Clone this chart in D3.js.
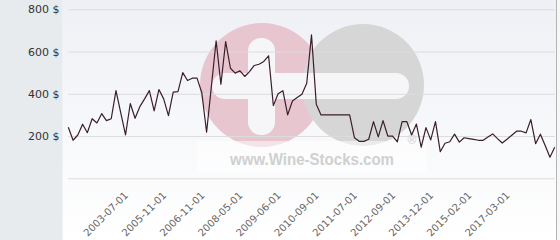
<!DOCTYPE html>
<html>
<head>
    <title>Wine price chart</title>
    <style>
        body { margin: 0; background: #fff; }
        .ylab text { font: 11px "DejaVu Sans", Verdana, sans-serif; fill: #333; }
        .xlab text { font: 10px "DejaVu Sans", Verdana, sans-serif; fill: #666; }
        .grid line { stroke: #dcdcdc; stroke-width: 1px; }
        .price { fill: none; stroke: #3b1e2c; stroke-width: 1.2px; stroke-linejoin: round; }
    </style>
</head>
<body>
    <div id="chart"></div>

    <script src="https://d3js.org/d3.v7.min.js"></script>
<script>
    // price per record (index = record number)
    var prices = [
        242, 180, 205, 256, 216, 282, 262, 306, 273, 282,
        415, 310, 205, 354, 284, 339, 376, 415, 319, 420,
        376, 297, 408, 410, 500, 463, 474, 474, 405, 218,
        434, 651, 445, 647, 521, 498, 509, 482, 505, 534,
        540, 553, 580, 344, 400, 415, 300, 366, 382, 398,
        450, 679, 351, 300, 300, 300, 300, 300, 300, 300,
        192, 175, 175, 185, 268, 196, 273, 200, 200, 173,
        268, 268, 205, 257, 147, 240, 182, 268, 126, 166,
        173, 209, 171, 192, 188, 184, 180, 180, 195, 210,
        188, 167, 185, 204, 223, 223, 215, 278, 164, 209,
        155, 100, 147
    ];

    // labelled records on the x axis
    var tickIndex = [13, 21, 29, 37, 45, 53, 61, 69, 77, 85, 93];
    var tickDates = ["2003-07-01", "2005-11-01", "2006-11-01", "2008-05-01", "2009-06-01",
        "2010-09-01", "2011-07-01", "2012-09-01", "2013-12-01", "2015-02-01", "2017-03-01"];

    var yGrid = [0, 200, 400, 600, 800];
    var yLabels = [200, 400, 600, 800];

    var width = 560, height = 240;
    var plotLeft = 68.3, plotRight = 554.7, plotTop = 9.3, plotBottom = 178.3;

    var svg = d3.select("#chart").append("svg")
        .attr("width", width)
        .attr("height", height);

    var x = d3.scaleLinear().domain([0, prices.length - 1]).range([plotLeft, plotRight]);
    var y = d3.scaleLinear().domain([0, 800]).range([plotBottom, plotTop]);

    // backgrounds
    var grad = svg.append("defs").append("linearGradient")
        .attr("id", "bg").attr("x1", 0).attr("y1", 0).attr("x2", 0).attr("y2", 1);
    grad.append("stop").attr("offset", "0%").attr("stop-color", "#eef0f5");
    grad.append("stop").attr("offset", "100%").attr("stop-color", "#ffffff");

    svg.append("rect").attr("width", width).attr("height", height).attr("fill", "#f7f7f7");
    svg.append("rect").attr("x", 63).attr("width", 493).attr("height", height).attr("fill", "url(#bg)");
    svg.append("rect").attr("width", 62.5).attr("height", height).attr("fill", "#e7ebee");
    svg.append("line").attr("x1", 556.5).attr("x2", 556.5).attr("y1", 0).attr("y2", height)
        .attr("stroke", "#b4b4b4");

    // watermark
    var wm = svg.append("g");
    wm.append("circle").attr("cx", 262).attr("cy", 85).attr("r", 62).attr("fill", "#e8c6d0");
    wm.append("circle").attr("cx", 363).attr("cy", 85).attr("r", 61).attr("fill", "#d6d6d6");
    wm.append("rect").attr("x", 248).attr("y", 38).attr("width", 27).attr("height", 97)
        .attr("rx", 13).attr("fill", "#f6f6f9");
    wm.append("rect").attr("x", 212).attr("y", 73).attr("width", 197).attr("height", 26)
        .attr("rx", 13).attr("fill", "#f6f6f9");
    wm.append("rect").attr("x", 197).attr("y", 141).attr("width", 230).attr("height", 31)
        .attr("fill", "#ffffff").attr("opacity", 0.5);
    wm.append("text").attr("x", 230).attr("y", 165)
        .attr("textLength", 164).attr("lengthAdjust", "spacingAndGlyphs")
        .style("font", "bold 17px Arial, 'Liberation Sans', sans-serif")
        .style("fill", "#d0d0d0")
        .text("www.Wine-Stocks.com");
    wm.append("text").attr("x", 412).attr("y", 144).attr("text-anchor", "middle")
        .style("font", "12px Arial, 'Liberation Sans', sans-serif")
        .style("fill", "#d0d0d0")
        .text("®");

    // grid lines
    svg.append("g")
        .attr("class", "grid")
        .attr("transform", "translate(" + plotLeft + ",0)")
        .call(d3.axisLeft(y).tickValues(yGrid).tickSize(-(plotRight - plotLeft)).tickFormat(""))
        .call(function(g) { g.select(".domain").remove(); });

    // y labels
    svg.append("g")
        .attr("class", "ylab")
        .attr("transform", "translate(62.5,0)")
        .call(d3.axisLeft(y).tickValues(yLabels).tickSize(0).tickPadding(3)
            .tickFormat(function(d) { return d + " $"; }))
        .call(function(g) { g.select(".domain").remove(); });

    // x labels
    svg.append("g")
        .attr("class", "xlab")
        .attr("transform", "translate(-3,192)")
        .call(d3.axisBottom(x).tickValues(tickIndex).tickSize(0)
            .tickFormat(function(d, i) { return tickDates[i]; }))
        .call(function(g) {
            g.select(".domain").remove();
            g.selectAll("text")
                .attr("x", -2).attr("y", 0).attr("dy", "0.35em")
                .attr("transform", "rotate(-45)")
                .style("text-anchor", "end");
        });

    // price line
    svg.append("path")
        .datum(prices)
        .attr("class", "price")
        .attr("d", d3.line()
            .x(function(d, i) { return x(i); })
            .y(function(d) { return y(d); }));
</script>

</body>
</html>
